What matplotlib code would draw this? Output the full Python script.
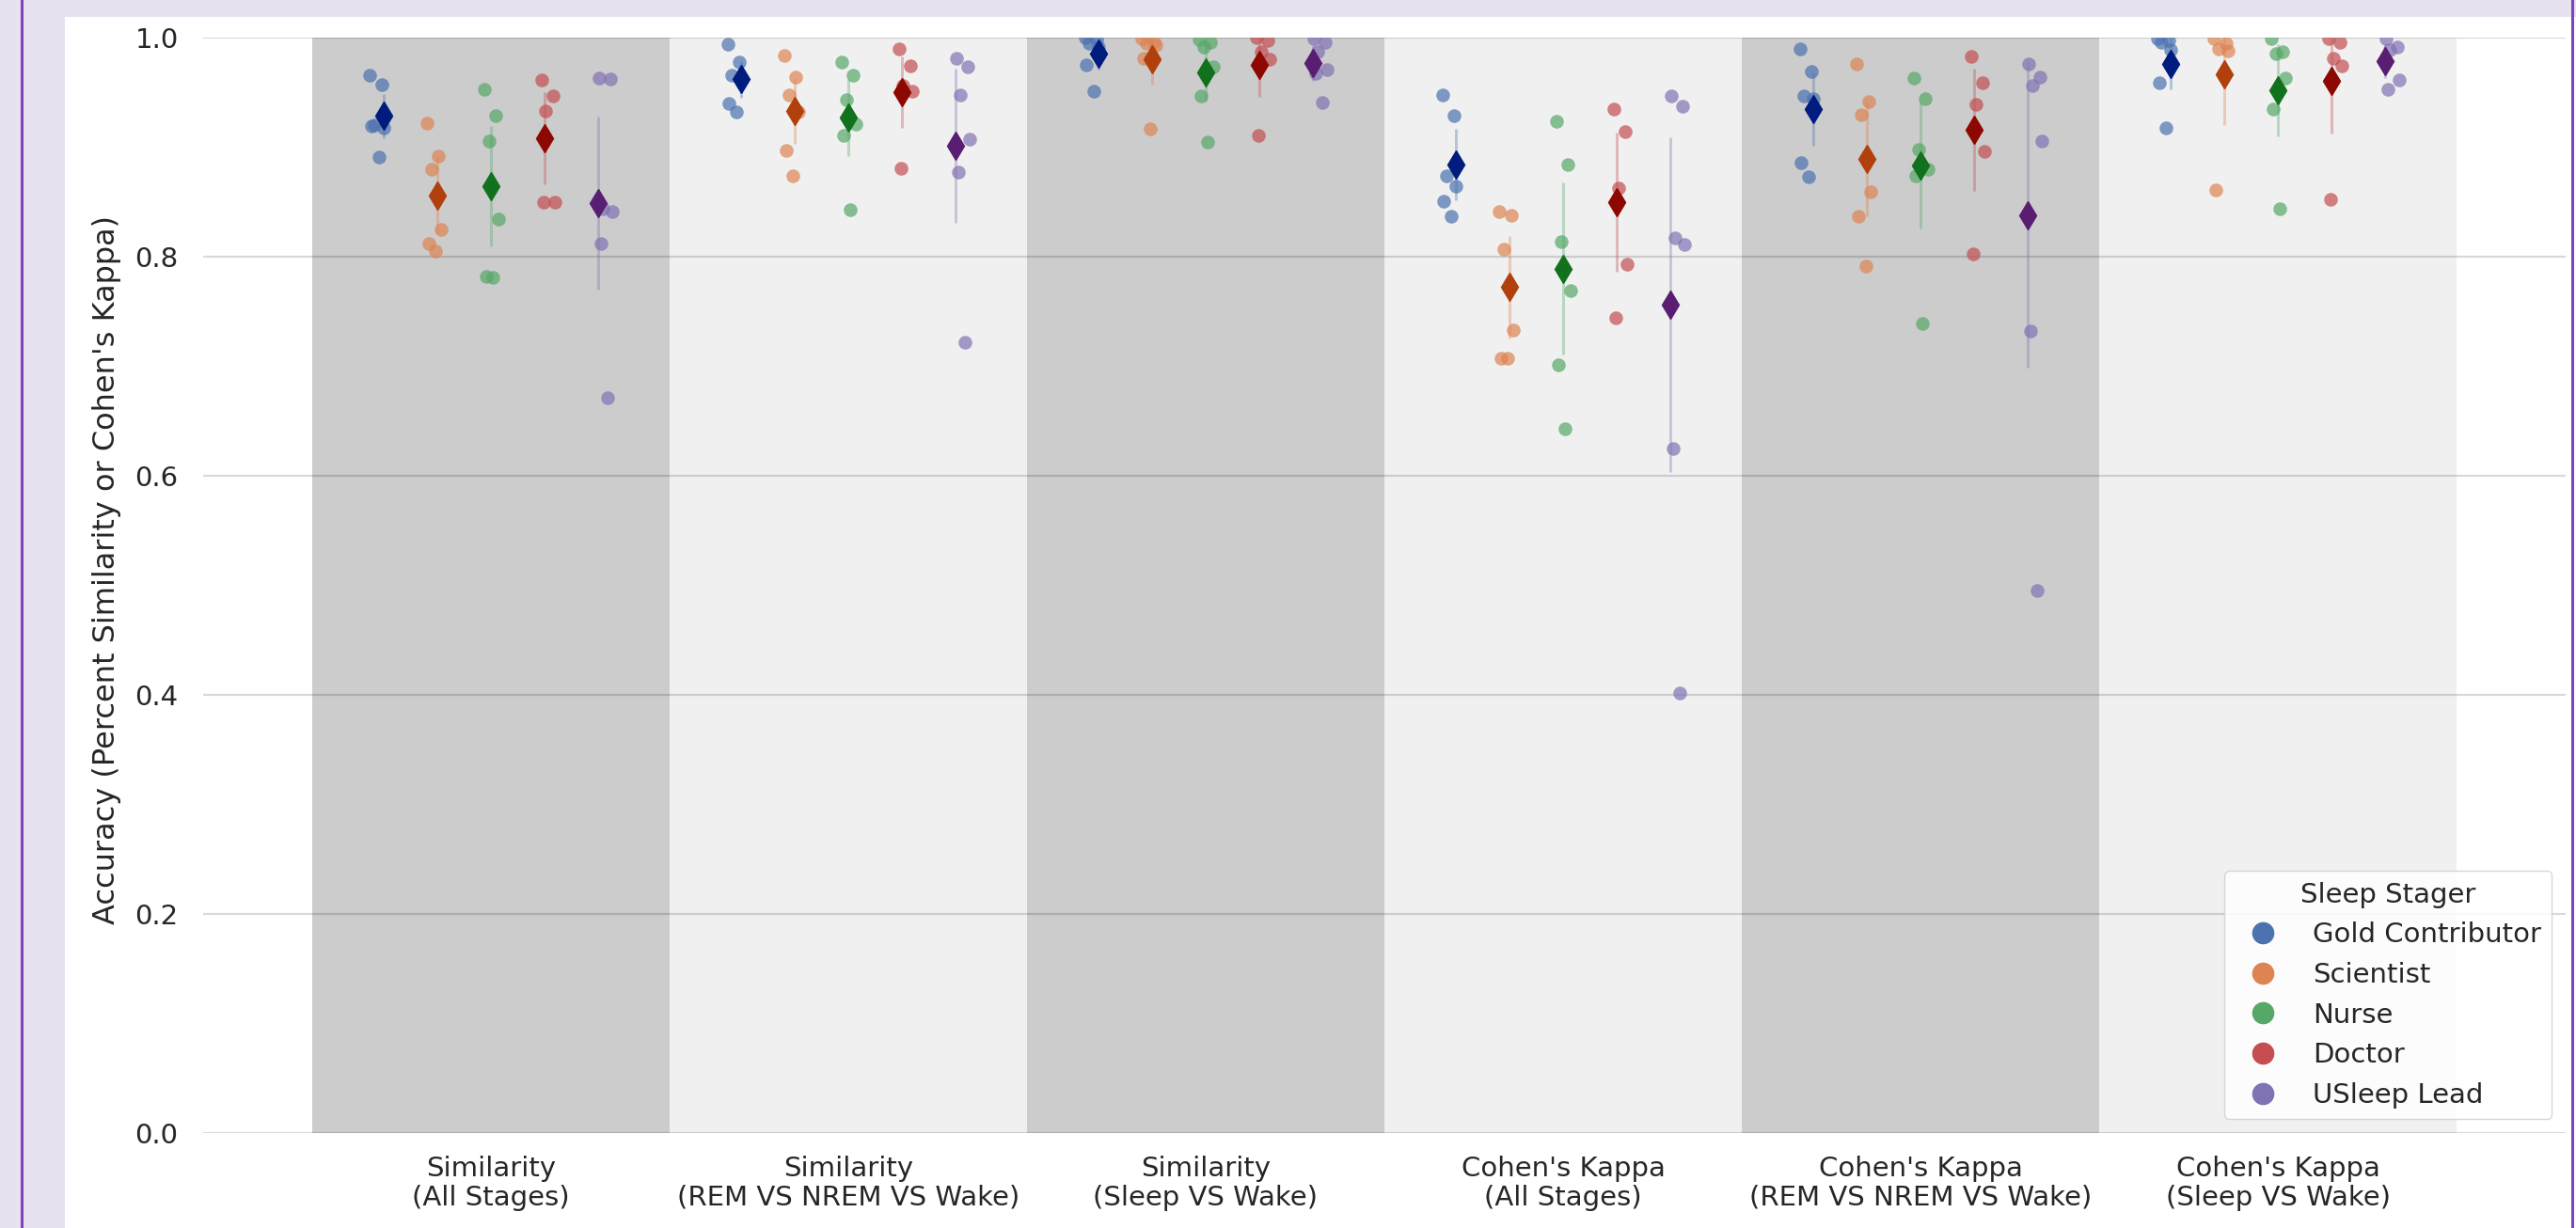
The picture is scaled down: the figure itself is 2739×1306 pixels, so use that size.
import numpy as np
import matplotlib.pyplot as plt
from matplotlib.lines import Line2D
from matplotlib.patches import Rectangle

# categories and groups
metrics = ["Similarity\n(All Stages)",
           "Similarity\n(REM VS NREM VS Wake)",
           "Similarity\n(Sleep VS Wake)",
           "Cohen's Kappa\n(All Stages)",
           "Cohen's Kappa\n(REM VS NREM VS Wake)",
           "Cohen's Kappa\n(Sleep VS Wake)"]
stagers = ["Gold Contributor", "Scientist", "Nurse", "Doctor", "USleep Lead"]

# per-stager scores, one list per metric
gold_contributor = [
    [0.966, 0.957, 0.920, 0.918, 0.919, 0.891],
    [0.994, 0.978, 0.966, 0.962, 0.940, 0.932],
    [1.000, 0.998, 0.995, 0.991, 0.975, 0.951],
    [0.948, 0.929, 0.874, 0.864, 0.851, 0.837],
    [0.990, 0.969, 0.947, 0.944, 0.886, 0.873],
    [0.999, 0.997, 0.996, 0.989, 0.959, 0.918],
]
scientist = [
    [0.922, 0.892, 0.880, 0.825, 0.812, 0.805],
    [0.984, 0.964, 0.948, 0.932, 0.897, 0.874],
    [0.999, 0.996, 0.995, 0.993, 0.981, 0.917],
    [0.841, 0.838, 0.807, 0.733, 0.707, 0.707],
    [0.976, 0.942, 0.930, 0.859, 0.837, 0.791],
    [0.999, 0.995, 0.990, 0.988, 0.861],
]
nurse = [
    [0.953, 0.929, 0.906, 0.834, 0.782, 0.781],
    [0.978, 0.966, 0.943, 0.921, 0.911, 0.843],
    [0.998, 0.996, 0.991, 0.973, 0.947, 0.905],
    [0.924, 0.884, 0.814, 0.769, 0.701, 0.643],
    [0.963, 0.944, 0.898, 0.880, 0.874, 0.739],
    [0.999, 0.987, 0.985, 0.963, 0.935, 0.844],
]
doctor = [
    [0.961, 0.947, 0.933, 0.850, 0.850],
    [0.990, 0.974, 0.956, 0.951, 0.881],
    [1.000, 0.997, 0.987, 0.980, 0.911],
    [0.935, 0.914, 0.863, 0.793, 0.744],
    [0.983, 0.959, 0.939, 0.896, 0.803],
    [0.999, 0.996, 0.981, 0.974, 0.852],
]
usleep_lead = [
    [0.963, 0.962, 0.844, 0.841, 0.812, 0.671],
    [0.981, 0.973, 0.948, 0.907, 0.877, 0.722],
    [0.999, 0.996, 0.987, 0.971, 0.967, 0.941],
    [0.947, 0.937, 0.817, 0.811, 0.625, 0.402],
    [0.976, 0.964, 0.956, 0.906, 0.732, 0.495],
    [0.999, 0.991, 0.989, 0.961, 0.953],
]
scores = [gold_contributor, scientist, nurse, doctor, usleep_lead]

deep = ["#4C72B0", "#DD8452", "#55A868", "#C44E52", "#8172B3"]
dark = ["#001C7F", "#B1400D", "#12711C", "#8C0800", "#591E71"]
txt = "#262626"
fs = 21

W, H, DPI = 2739, 1306, 100
fig = plt.figure(figsize=(W / DPI, H / DPI), dpi=DPI)

# notebook frame around the output
lav = "#E8E1F0"
fig.add_artist(Rectangle((0, 0), 69 / W, 1, transform=fig.transFigure,
                         facecolor=lav, edgecolor="none", zorder=0))
fig.add_artist(Rectangle((0, 1 - 18 / H), 1, 18 / H, transform=fig.transFigure,
                         facecolor=lav, edgecolor="none", zorder=0))
fig.add_artist(Line2D([23 / W, 23 / W], [0, 1], transform=fig.transFigure,
                      color="#7E45B8", lw=2.2))
fig.add_artist(Line2D([2735 / W, 2735 / W], [0, 1], transform=fig.transFigure,
                      color="#7E45B8", lw=2.2))

ax = fig.add_axes([216 / W, 101 / H, 2512 / W, 1165 / H])
ax.set_facecolor("white")
for s in ax.spines.values():
    s.set_visible(False)

# alternating background bands
for i in range(len(metrics)):
    ax.axvspan(i - 0.5, i + 0.5, color="#CCCCCC" if i % 2 == 0 else "#F0F0F0",
               lw=0, zorder=0)

ax.set_xlim(-0.805, 5.805)
ax.set_ylim(0, 1)
yt = np.arange(0, 1.01, 0.2)
ax.set_yticks(yt)
ax.set_yticklabels(["%.1f" % v for v in yt])
for v in yt:
    ax.axhline(v, color="black", alpha=0.15, lw=1.6, zorder=1)

jitter = [-0.018, 0.014, -0.006, 0.02, -0.013, 0.006]
strip_off = [-0.32, -0.16, 0.0, 0.16, 0.32]
point_off = [-0.30, -0.15, 0.0, 0.15, 0.30]

for h, name in enumerate(stagers):
    for m in range(len(metrics)):
        vals = np.array(scores[h][m])
        xs = m + strip_off[h] + np.array(jitter[:len(vals)])
        ax.scatter(xs, vals, s=110, color=deep[h], alpha=0.7, lw=0, zorder=3)
        mean = vals.mean()
        ci = 1.96 * vals.std() / np.sqrt(len(vals))
        xp = m + point_off[h]
        ax.plot([xp, xp], [mean - ci, mean + ci], color=deep[h], alpha=0.35,
                lw=2.2, zorder=2, solid_capstyle="butt")
        ax.plot([xp], [mean], marker="d", ms=15, color=dark[h], mec=dark[h],
                ls="none", zorder=4)

ax.set_xticks(range(len(metrics)))
ax.set_xticklabels(metrics, fontsize=fs, color=txt, linespacing=1.15)
ax.tick_params(axis="x", length=0, pad=17)
ax.tick_params(axis="y", length=0, pad=19, labelsize=fs, labelcolor=txt)
ax.set_ylabel("Accuracy (Percent Similarity or Cohen's Kappa)", fontsize=23,
              color=txt)
ax.yaxis.set_label_coords(-0.0346, 0.514)
ax.set_xlabel("Metric", fontsize=fs, color=txt)
ax.xaxis.set_label_coords(0.5, -0.0875)

handles = [Line2D([], [], marker="o", ls="none", ms=16, color=c) for c in deep]
leg = ax.legend(handles, stagers, title="Sleep Stager", loc="lower right",
                fontsize=fs, title_fontsize=fs, labelspacing=0.5,
                frameon=True, fancybox=True, borderaxespad=0.5)
leg.get_frame().set_edgecolor("#D0D0D0")
leg.get_frame().set_alpha(0.85)
for t in leg.get_texts():
    t.set_color(txt)
leg.get_title().set_color(txt)

fig.savefig("out.png", dpi=DPI)
